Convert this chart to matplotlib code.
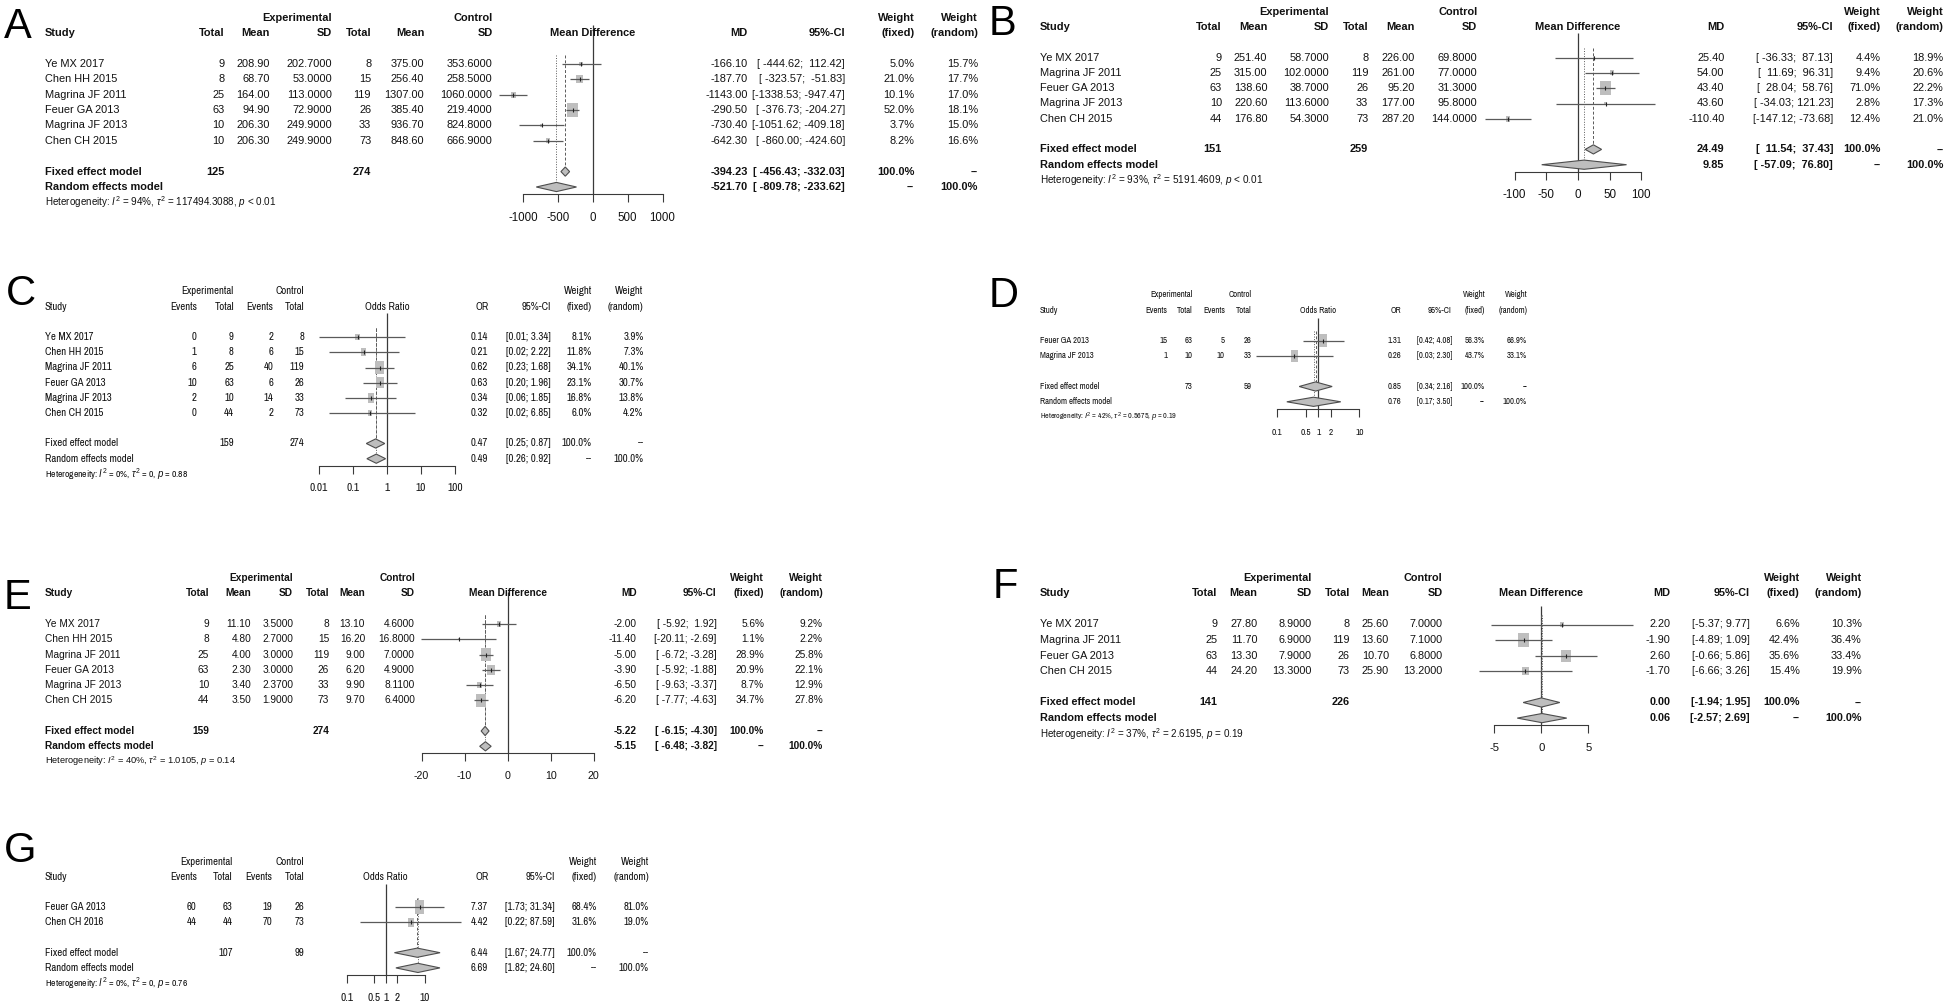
import matplotlib
matplotlib.use("Agg")
import matplotlib.pyplot as plt
from matplotlib import font_manager as fm
from matplotlib.path import Path
from matplotlib.ticker import NullLocator
from matplotlib.transforms import blended_transform_factory
import numpy as np

# ======================= DATA =======================
# ---- Panel A : mean difference
A_studies = ["Ye MX 2017", "Chen HH 2015", "Magrina JF 2011", "Feuer GA 2013", "Magrina JF 2013", "Chen CH 2015"]
A_e_total = [9, 8, 25, 63, 10, 10]
A_e_mean = [208.90, 68.70, 164.00, 94.90, 206.30, 206.30]
A_e_sd = [202.7, 53.0, 113.0, 72.9, 249.9, 249.9]
A_c_total = [8, 15, 119, 26, 33, 73]
A_c_mean = [375.00, 256.40, 1307.00, 385.40, 936.70, 848.60]
A_c_sd = [353.6, 258.5, 1060.0, 219.4, 824.8, 666.9]
A_est = [-166.10, -187.70, -1143.00, -290.50, -730.40, -642.30]
A_lo = [-444.62, -323.57, -1338.53, -376.73, -1051.62, -860.00]
A_hi = [112.42, -51.83, -947.47, -204.27, -409.18, -424.60]
A_w_fixed = [5.0, 21.0, 10.1, 52.0, 3.7, 8.2]
A_w_random = [15.7, 17.7, 17.0, 18.1, 15.0, 16.6]
A_fixed = [-394.23, -456.43, -332.03]
A_random = [-521.70, -809.78, -233.62]
A_totals = [125, 274]
A_het = ["94%", "117494.3088", "< 0.01"]
A_ticks = [-1000, -500, 0, 500, 1000]

# ---- Panel B : mean difference
B_studies = ["Ye MX 2017", "Magrina JF 2011", "Feuer GA 2013", "Magrina JF 2013", "Chen CH 2015"]
B_e_total = [9, 25, 63, 10, 44]
B_e_mean = [251.40, 315.00, 138.60, 220.60, 176.80]
B_e_sd = [58.7, 102.0, 38.7, 113.6, 54.3]
B_c_total = [8, 119, 26, 33, 73]
B_c_mean = [226.00, 261.00, 95.20, 177.00, 287.20]
B_c_sd = [69.8, 77.0, 31.3, 95.8, 144.0]
B_est = [25.40, 54.00, 43.40, 43.60, -110.40]
B_lo = [-36.33, 11.69, 28.04, -34.03, -147.12]
B_hi = [87.13, 96.31, 58.76, 121.23, -73.68]
B_w_fixed = [4.4, 9.4, 71.0, 2.8, 12.4]
B_w_random = [18.9, 20.6, 22.2, 17.3, 21.0]
B_fixed = [24.49, 11.54, 37.43]
B_random = [9.85, -57.09, 76.80]
B_totals = [151, 259]
B_het = ["93%", "5191.4609", "< 0.01"]
B_ticks = [-100, -50, 0, 50, 100]

# ---- Panel C : odds ratio
C_studies = ["Ye MX 2017", "Chen HH 2015", "Magrina JF 2011", "Feuer GA 2013", "Magrina JF 2013", "Chen CH 2015"]
C_e_events = [0, 1, 6, 10, 2, 0]
C_e_total = [9, 8, 25, 63, 10, 44]
C_c_events = [2, 6, 40, 6, 14, 2]
C_c_total = [8, 15, 119, 26, 33, 73]
C_est = [0.14, 0.21, 0.62, 0.63, 0.34, 0.32]
C_lo = [0.01, 0.02, 0.23, 0.20, 0.06, 0.02]
C_hi = [3.34, 2.22, 1.68, 1.96, 1.85, 6.85]
C_w_fixed = [8.1, 11.8, 34.1, 23.1, 16.8, 6.0]
C_w_random = [3.9, 7.3, 40.1, 30.7, 13.8, 4.2]
C_fixed = [0.47, 0.25, 0.87]
C_random = [0.49, 0.26, 0.92]
C_totals = [159, 274]
C_het = ["0%", "0", "= 0.88"]
C_ticks = [0.01, 0.1, 1, 10, 100]

# ---- Panel D : odds ratio
D_studies = ["Feuer GA 2013", "Magrina JF 2013"]
D_e_events = [15, 1]
D_e_total = [63, 10]
D_c_events = [5, 10]
D_c_total = [26, 33]
D_est = [1.31, 0.26]
D_lo = [0.42, 0.03]
D_hi = [4.08, 2.30]
D_w_fixed = [56.3, 43.7]
D_w_random = [66.9, 33.1]
D_fixed = [0.85, 0.34, 2.16]
D_random = [0.76, 0.17, 3.50]
D_totals = [73, 59]
D_het = ["42%", "0.5675", "= 0.19"]
D_ticks = [0.1, 0.5, 1, 2, 10]

# ---- Panel E : mean difference
E_studies = ["Ye MX 2017", "Chen HH 2015", "Magrina JF 2011", "Feuer GA 2013", "Magrina JF 2013", "Chen CH 2015"]
E_e_total = [9, 8, 25, 63, 10, 44]
E_e_mean = [11.10, 4.80, 4.00, 2.30, 3.40, 3.50]
E_e_sd = [3.5, 2.7, 3.0, 3.0, 2.37, 1.9]
E_c_total = [8, 15, 119, 26, 33, 73]
E_c_mean = [13.10, 16.20, 9.00, 6.20, 9.90, 9.70]
E_c_sd = [4.6, 16.8, 7.0, 4.9, 8.11, 6.4]
E_est = [-2.00, -11.40, -5.00, -3.90, -6.50, -6.20]
E_lo = [-5.92, -20.11, -6.72, -5.92, -9.63, -7.77]
E_hi = [1.92, -2.69, -3.28, -1.88, -3.37, -4.63]
E_w_fixed = [5.6, 1.1, 28.9, 20.9, 8.7, 34.7]
E_w_random = [9.2, 2.2, 25.8, 22.1, 12.9, 27.8]
E_fixed = [-5.22, -6.15, -4.30]
E_random = [-5.15, -6.48, -3.82]
E_totals = [159, 274]
E_het = ["40%", "1.0105", "= 0.14"]
E_ticks = [-20, -10, 0, 10, 20]

# ---- Panel F : mean difference
F_studies = ["Ye MX 2017", "Magrina JF 2011", "Feuer GA 2013", "Chen CH 2015"]
F_e_total = [9, 25, 63, 44]
F_e_mean = [27.80, 11.70, 13.30, 24.20]
F_e_sd = [8.9, 6.9, 7.9, 13.3]
F_c_total = [8, 119, 26, 73]
F_c_mean = [25.60, 13.60, 10.70, 25.90]
F_c_sd = [7.0, 7.1, 6.8, 13.2]
F_est = [2.20, -1.90, 2.60, -1.70]
F_lo = [-5.37, -4.89, -0.66, -6.66]
F_hi = [9.77, 1.09, 5.86, 3.26]
F_w_fixed = [6.6, 42.4, 35.6, 15.4]
F_w_random = [10.3, 36.4, 33.4, 19.9]
F_fixed = [0.00, -1.94, 1.95]
F_random = [0.06, -2.57, 2.69]
F_totals = [141, 226]
F_het = ["37%", "2.6195", "= 0.19"]
F_ticks = [-5, 0, 5]

# ---- Panel G : odds ratio
G_studies = ["Feuer GA 2013", "Chen CH 2016"]
G_e_events = [60, 44]
G_e_total = [63, 44]
G_c_events = [19, 70]
G_c_total = [26, 73]
G_est = [7.37, 4.42]
G_lo = [1.73, 0.22]
G_hi = [31.34, 87.59]
G_w_fixed = [68.4, 31.6]
G_w_random = [81.0, 19.0]
G_fixed = [6.44, 1.67, 24.77]
G_random = [6.69, 1.82, 24.60]
G_totals = [107, 99]
G_het = ["0%", "0", "= 0.76"]
G_ticks = [0.1, 0.5, 1, 2, 10]

# ======================= STYLE / LAYOUT =======================
W, H, DPI = 1946, 1006, 100
names = {f.name for f in fm.fontManager.ttflist}
WIDE = next((f for f in ["Liberation Sans", "Arimo", "DejaVu Sans"] if f in names), "DejaVu Sans")
NARROW = next((f for f in ["Liberation Sans Narrow", "Archivo Narrow", "Roboto Condensed"] if f in names), WIDE)
plt.rcParams['font.family'] = [WIDE, 'DejaVu Sans']
plt.rcParams['mathtext.fontset'] = 'custom'
plt.rcParams['mathtext.rm'] = WIDE
plt.rcParams['mathtext.it'] = WIDE + ':italic'
plt.rcParams['mathtext.bf'] = WIDE + ':bold'
plt.rcParams['axes.unicode_minus'] = False
plt.rcParams['text.color'] = '#111111'

BOX = '#BEBEBE'
CI_COL = '#5a5a5a'
DIA_EDGE = '#4d4d4d'
LINE_COL = '#3a3a3a'
TXT_FACTOR = 0.83

fig = plt.figure(figsize=(W / DPI, H / DPI), dpi=DPI)
fig.patch.set_facecolor('white')
renderer = fig.canvas.get_renderer()


def text_width(s, fs, family):
    t = fig.text(0, 0, s, fontsize=fs, family=[family, 'DejaVu Sans'])
    w = t.get_window_extent(renderer).width
    t.remove()
    return w


base = fig.add_axes([0, 0, 1, 1])
base.set_xlim(0, W)
base.set_ylim(H, 0)
base.axis('off')

# horizontal positions measured on crops of the reference (crop units), mapped linearly per panel
RAW = {
    'A': dict(study=85, cols=[362, 432, 528, 588, 670, 775], fx=(822, 1037), est=1168, ci=1318, wf=1425, wr=1523, het=430),
    'B': dict(study=175, cols=[455, 525, 620, 680, 752, 848], fx=(905, 1100), est=1228, ci=1395, wf=1468, wr=1565, het=410),
    'C': dict(study=88, cols=[375, 445, 520, 578], fx=(605, 862), est=925, ci=1043, wf=1120, wr=1218, het=324),
    'D': dict(study=175, cols=[472, 530, 605, 667], fx=(727, 918), est=1015, ci=1133, wf=1210, wr=1308, het=383),
    'E': dict(study=88, cols=[362, 432, 502, 562, 622, 705], fx=(716, 1003), est=1075, ci=1208, wf=1287, wr=1385, het=382),
    'F': dict(study=168, cols=[445, 508, 592, 652, 713, 797], fx=(878, 1025), est=1153, ci=1277, wf=1355, wr=1452, het=382),
    'G': dict(study=88, cols=[375, 443, 518, 578], fx=(658, 805), est=925, ci=1050, wf=1130, wr=1228, het=324),
}
# x of "Study" in the full-size reference and horizontal scale (px per crop unit) of each panel
ANCHOR = {'A': (44.7, 0.649), 'B': (1040, 0.650), 'C': (44.7, 0.53), 'D': (1040, 0.43),
          'E': (44.7, 0.60), 'F': (1040, 0.64), 'G': (44.7, 0.53)}
# letter position (x, centre y), y of header row, row spacing, top of null line (rows)
VERT = {
    'A': ((4, 27), 33.0, 15.4, -0.5), 'B': ((989, 24), 27.0, 15.3, 0.4), 'C': ((6, 294), 306.7, 15.2, 0.4),
    'D': ((989, 296), 310.0, 15.3, 0.5), 'E': ((4, 598), 593.3, 15.3, -0.1), 'F': ((993, 587), 593.3, 15.6, 0.8),
    'G': ((4, 851), 876.7, 15.2, 0.5),
}
B_REF = ANCHOR['A'][1]


def layout(key):
    r = RAW[key]
    x_s, b = ANCHOR[key]
    a = x_s - b * r['study']
    cv = lambda u: a + b * u
    (lx, ly), y0, s, ztop = VERT[key]
    squash = b / B_REF
    family = WIDE if squash > 0.85 else NARROW
    fs = 10 * (152 * b * TXT_FACTOR) / text_width("Magrina JF 2011", 10, family)
    return dict(letter=(lx, ly), y0=y0, s=s, ztop=ztop, study=cv(r['study']), cols=[cv(u) for u in r['cols']],
                fx=(cv(r['fx'][0]), cv(r['fx'][1])), est=cv(r['est']), ci=cv(r['ci']), wf=cv(r['wf']),
                wr=cv(r['wr']), family=family, fs=fs, het_w=r['het'] * b * TXT_FACTOR,
                aspect=min(1.0, 0.85 * squash))


def ci_strings(lows, highs):
    ls = [f"{v:.2f}" for v in lows]
    hs = [f"{v:.2f}" for v in highs]
    wl, wh = max(map(len, ls)), max(map(len, hs))
    return [f"[{l.rjust(wl)}; {h.rjust(wh)}]" for l, h in zip(ls, hs)]


def draw_panel(letter, kind, studies, columns, est, lo, hi, wfix, wran, fixed, rand, totals, het, ticks, L):
    y0, s = L['y0'], L['s']
    FS, FAM = L['fs'], [L['family'], 'DejaVu Sans']
    n = len(studies)
    rows = np.arange(2, 2 + n)
    fixed_row, random_row, het_row = n + 3, n + 4, n + 5
    axis_row = random_row + 0.47
    r_top, r_bot = -2.0, het_row + 2.5
    x0, x1 = L['fx']
    ax = fig.add_axes([x0 / W, 1 - (y0 + r_bot * s) / H, (x1 - x0) / W, (r_bot - r_top) * s / H])
    log = kind == 'bin'
    if log:
        ax.set_xscale('log')
    ax.set_xlim(ticks[0], ticks[-1])
    ax.set_ylim(r_bot, r_top)
    ax.patch.set_visible(False)
    for sp in ['top', 'left', 'right']:
        ax.spines[sp].set_visible(False)
    ax.spines['bottom'].set_position(('data', axis_row))
    ax.spines['bottom'].set_color(LINE_COL)
    ax.spines['bottom'].set_linewidth(0.8)
    ax.set_yticks([])
    ax.set_xticks(ticks)
    ax.set_xticklabels([f"{t:g}" for t in ticks], family=FAM, fontsize=FS * 1.05)
    ax.xaxis.set_minor_locator(NullLocator())
    em = FS * DPI / 72
    ax.tick_params(axis='x', direction='out', length=8 * 0.72, width=0.8, color=LINE_COL,
                   pad=max(1.0, (24 - 8 - 0.6 * em)) * 0.72, labelcolor='#111111')

    null = 1 if log else 0
    dh = 4.6 / s
    ax.vlines(null, L['ztop'], axis_row, color=LINE_COL, lw=0.9, zorder=1)
    ax.vlines(fixed[0], 1.4, fixed_row - dh, color=CI_COL, lw=0.7, linestyles=(0, (3, 2)), zorder=1)
    ax.vlines(rand[0], 1.4, random_row - dh, color=CI_COL, lw=0.7, linestyles=(0, (1, 1.6)), zorder=1)
    asp = L['aspect'] / 2
    rect = Path([(-asp, -0.5), (asp, -0.5), (asp, 0.5), (-asp, 0.5), (-asp, -0.5)],
                [Path.MOVETO, Path.LINETO, Path.LINETO, Path.LINETO, Path.CLOSEPOLY])
    wf = np.array(wfix)
    side = 13.5 * np.sqrt(wf / wf.max())
    ax.scatter(est, rows, marker=rect, s=(side * 0.72) ** 2, color=BOX, linewidths=0, zorder=2, clip_on=False)
    ax.hlines(rows, lo, hi, color=CI_COL, lw=0.9, zorder=3, clip_on=False)
    ax.scatter(est, rows, marker='|', s=(4.5 * 0.72) ** 2, color='#222222', linewidths=0.8, zorder=4, clip_on=False)
    for (e, l, h), r in [(fixed, fixed_row), (rand, random_row)]:
        ax.fill([l, e, h, e], [r, r - dh, r, r + dh], facecolor=BOX, edgecolor=DIA_EDGE, lw=0.8,
                zorder=3, clip_on=False)

    trans = blended_transform_factory(base.transData, ax.transData)

    def T(x, r, txt, ha='right', bold=False, fs=None):
        base.text(x, r, txt, transform=trans, ha=ha, va='center', fontsize=fs or FS, family=FAM,
                  fontweight='bold' if bold else 'normal', clip_on=False)

    c = L['cols']
    base.text(L['letter'][0], L['letter'][1], letter, fontsize=30, ha='left', va='center', color='black',
              family=[WIDE])
    if kind == 'cont':
        T(c[2], -1, "Experimental", bold=True)
        T(c[5], -1, "Control", bold=True)
        for x, t in zip(c, ["Total", "Mean", "SD", "Total", "Mean", "SD"]):
            T(x, 0, t, bold=True)
        title, eh = "Mean Difference", "MD"
        tot_cols = (c[0], c[3])
    else:
        T(c[1], -1, "Experimental", bold=True)
        T(c[3], -1, "Control", bold=True)
        for x, t in zip(c, ["Events", "Total", "Events", "Total"]):
            T(x, 0, t, bold=True)
        title, eh = "Odds Ratio", "OR"
        tot_cols = (c[1], c[3])
    T(L['study'], 0, "Study", ha='left', bold=True)
    ax.text(null, 0, title, ha='center', va='center', fontsize=FS, fontweight='bold', family=FAM)
    T(L['est'], 0, eh, bold=True)
    T(L['ci'], 0, "95%-CI", bold=True)
    T(L['wf'], -1, "Weight", bold=True)
    T(L['wr'], -1, "Weight", bold=True)
    T(L['wf'], 0, "(fixed)", bold=True)
    T(L['wr'], 0, "(random)", bold=True)

    cis = ci_strings(list(lo) + [fixed[1], rand[1]], list(hi) + [fixed[2], rand[2]])
    fmts = ["{:d}", "{:.2f}", "{:.4f}", "{:d}", "{:.2f}", "{:.4f}"] if kind == 'cont' else ["{:d}"] * 4
    for i, r in enumerate(rows):
        T(L['study'], r, studies[i], ha='left')
        for x, col, f in zip(c, columns, fmts):
            T(x, r, f.format(col[i]))
        T(L['est'], r, f"{est[i]:.2f}")
        T(L['ci'], r, cis[i])
        T(L['wf'], r, f"{wfix[i]:.1f}%")
        T(L['wr'], r, f"{wran[i]:.1f}%")
    T(L['study'], fixed_row, "Fixed effect model", ha='left', bold=True)
    T(tot_cols[0], fixed_row, f"{totals[0]}", bold=True)
    T(tot_cols[1], fixed_row, f"{totals[1]}", bold=True)
    T(L['est'], fixed_row, f"{fixed[0]:.2f}", bold=True)
    T(L['ci'], fixed_row, cis[n], bold=True)
    T(L['wf'], fixed_row, "100.0%", bold=True)
    T(L['wr'], fixed_row, "--", bold=True)
    T(L['study'], random_row, "Random effects model", ha='left', bold=True)
    T(L['est'], random_row, f"{rand[0]:.2f}", bold=True)
    T(L['ci'], random_row, cis[n + 1], bold=True)
    T(L['wf'], random_row, "--", bold=True)
    T(L['wr'], random_row, "100.0%", bold=True)
    het_txt = rf"Heterogeneity: $I^2$ = {het[0]}, $\tau^2$ = {het[1]}, $p$ {het[2]}"
    hfs = 10 * L['het_w'] / text_width(het_txt, 10, L['family'])
    T(L['study'], het_row, het_txt, ha='left', fs=hfs)


draw_panel('A', 'cont', A_studies, [A_e_total, A_e_mean, A_e_sd, A_c_total, A_c_mean, A_c_sd],
           A_est, A_lo, A_hi, A_w_fixed, A_w_random, A_fixed, A_random, A_totals, A_het, A_ticks, layout('A'))
draw_panel('B', 'cont', B_studies, [B_e_total, B_e_mean, B_e_sd, B_c_total, B_c_mean, B_c_sd],
           B_est, B_lo, B_hi, B_w_fixed, B_w_random, B_fixed, B_random, B_totals, B_het, B_ticks, layout('B'))
draw_panel('C', 'bin', C_studies, [C_e_events, C_e_total, C_c_events, C_c_total],
           C_est, C_lo, C_hi, C_w_fixed, C_w_random, C_fixed, C_random, C_totals, C_het, C_ticks, layout('C'))
draw_panel('D', 'bin', D_studies, [D_e_events, D_e_total, D_c_events, D_c_total],
           D_est, D_lo, D_hi, D_w_fixed, D_w_random, D_fixed, D_random, D_totals, D_het, D_ticks, layout('D'))
draw_panel('E', 'cont', E_studies, [E_e_total, E_e_mean, E_e_sd, E_c_total, E_c_mean, E_c_sd],
           E_est, E_lo, E_hi, E_w_fixed, E_w_random, E_fixed, E_random, E_totals, E_het, E_ticks, layout('E'))
draw_panel('F', 'cont', F_studies, [F_e_total, F_e_mean, F_e_sd, F_c_total, F_c_mean, F_c_sd],
           F_est, F_lo, F_hi, F_w_fixed, F_w_random, F_fixed, F_random, F_totals, F_het, F_ticks, layout('F'))
draw_panel('G', 'bin', G_studies, [G_e_events, G_e_total, G_c_events, G_c_total],
           G_est, G_lo, G_hi, G_w_fixed, G_w_random, G_fixed, G_random, G_totals, G_het, G_ticks, layout('G'))

fig.savefig("out.png", dpi=DPI, facecolor='white')
